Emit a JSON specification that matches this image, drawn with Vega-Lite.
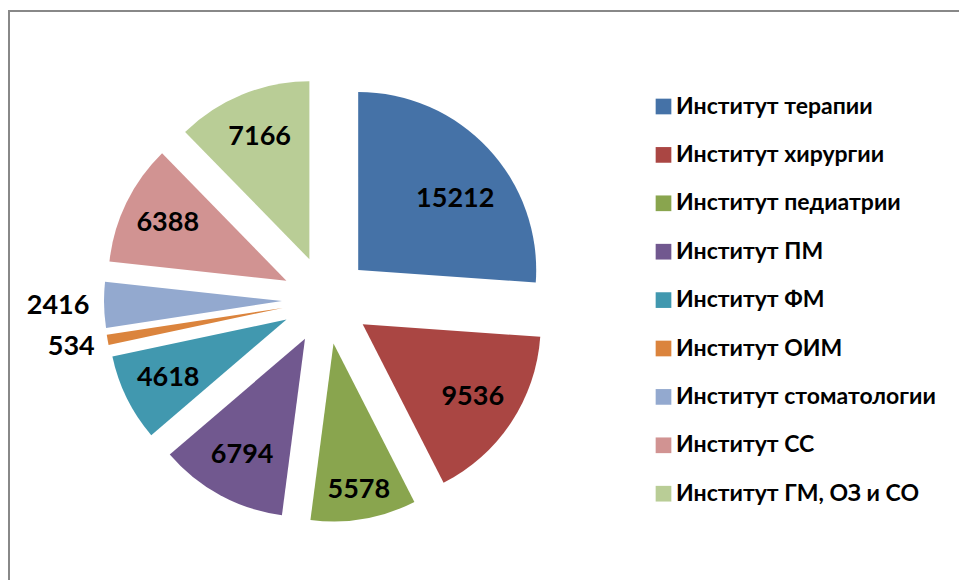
{
  "$schema": "https://vega.github.io/schema/vega-lite/v6.json",
  "width": 970,
  "height": 589,
  "padding": {"left": 9, "top": 11, "right": -20, "bottom": -20},
  "autosize": {"type": "none"},
  "background": "white",
  "view": {"stroke": "#888888", "strokeWidth": 2, "fill": "white"},
  "config": {"view": {"stroke": "#888888", "strokeWidth": 2}, "style": {"view": {"stroke": "#888888", "strokeWidth": 2}}, "font": "Lato"},
  "data": {"values": [
    {"name": "Институт терапии", "value": 15212, "idx": 1},
    {"name": "Институт хирургии", "value": 9536, "idx": 2},
    {"name": "Институт педиатрии", "value": 5578, "idx": 3},
    {"name": "Институт ПМ", "value": 6794, "idx": 4},
    {"name": "Институт ФМ", "value": 4618, "idx": 5},
    {"name": "Институт ОИМ", "value": 534, "idx": 6},
    {"name": "Институт стоматологии", "value": 2416, "idx": 7},
    {"name": "Институт СС", "value": 6388, "idx": 8},
    {"name": "Институт ГМ, ОЗ и СО", "value": 7166, "idx": 9}
  ]},
  "transform": [
    {"stack": "value", "groupby": [], "sort": [{"field": "idx", "order": "ascending"}], "as": ["v0", "v1"]}
  ],
  "encoding": {
    "color": {
      "field": "name", "type": "nominal",
      "scale": {
        "domain": ["Институт терапии", "Институт хирургии", "Институт педиатрии", "Институт ПМ", "Институт ФМ", "Институт ОИМ", "Институт стоматологии", "Институт СС", "Институт ГМ, ОЗ и СО"],
        "range": ["#4572A7", "#AA4643", "#89A54E", "#71588F", "#4198AF", "#DB843D", "#93A9CF", "#D19392", "#B9CD96"]
      },
      "legend": {
        "orient": "none", "legendX": 643, "legendY": 84, "title": null,
        "symbolType": "square", "symbolSize": 246, "symbolStrokeWidth": 0, "symbolOpacity": 1,
        "labelFont": "Lato", "labelFontSize": 23, "labelFontWeight": "bold", "labelColor": "black",
        "rowPadding": 24.4, "labelOffset": 1, "labelLimit": 400
      }
    }
  },
  "layer": [
    {"transform": [{"filter": "datum.idx == 1"}], "mark": {"type": "arc", "radius": 178, "xOffset": -135.8, "yOffset": -35.5},
     "encoding": {"theta": {"field": "v0", "type": "quantitative"}, "theta2": {"field": "v1"}}},
    {"transform": [{"filter": "datum.idx == 2"}], "mark": {"type": "arc", "radius": 178, "xOffset": -131.3, "yOffset": 18.8},
     "encoding": {"theta": {"field": "v0", "type": "quantitative"}, "theta2": {"field": "v1"}}},
    {"transform": [{"filter": "datum.idx == 3"}], "mark": {"type": "arc", "radius": 178, "xOffset": -160.5, "yOffset": 37.9},
     "encoding": {"theta": {"field": "v0", "type": "quantitative"}, "theta2": {"field": "v1"}}},
    {"transform": [{"filter": "datum.idx == 4"}], "mark": {"type": "arc", "radius": 178, "xOffset": -189.0, "yOffset": 33.2},
     "encoding": {"theta": {"field": "v0", "type": "quantitative"}, "theta2": {"field": "v1"}}},
    {"transform": [{"filter": "datum.idx == 5"}], "mark": {"type": "arc", "radius": 178, "xOffset": -207.5, "yOffset": 14.0},
     "encoding": {"theta": {"field": "v0", "type": "quantitative"}, "theta2": {"field": "v1"}}},
    {"transform": [{"filter": "datum.idx == 6"}], "mark": {"type": "arc", "radius": 178, "xOffset": -211.3, "yOffset": 2.4},
     "encoding": {"theta": {"field": "v0", "type": "quantitative"}, "theta2": {"field": "v1"}}},
    {"transform": [{"filter": "datum.idx == 7"}], "mark": {"type": "arc", "radius": 178, "xOffset": -212.0, "yOffset": -4.5},
     "encoding": {"theta": {"field": "v0", "type": "quantitative"}, "theta2": {"field": "v1"}}},
    {"transform": [{"filter": "datum.idx == 8"}], "mark": {"type": "arc", "radius": 178, "xOffset": -207.6, "yOffset": -24.8},
     "encoding": {"theta": {"field": "v0", "type": "quantitative"}, "theta2": {"field": "v1"}}},
    {"transform": [{"filter": "datum.idx == 9"}], "mark": {"type": "arc", "radius": 178, "xOffset": -184.6, "yOffset": -46.2},
     "encoding": {"theta": {"field": "v0", "type": "quantitative"}, "theta2": {"field": "v1"}}},
    {"mark": {"type": "text", "radius": 164, "thetaOffset": 0.087, "xOffset": -168, "yOffset": -5.5, "fontSize": 27, "fontWeight": "bold", "font": "Lato", "align": "center", "baseline": "middle"},
     "encoding": {"theta": {"field": "value", "type": "quantitative", "stack": true}, "order": {"field": "idx"}, "detail": {"field": "name"}, "color": {"value": "black"}, "text": {"field": "value", "type": "nominal"},
       "opacity": {"condition": {"test": "datum.idx == 1", "value": 1}, "value": 0}}},
    {"mark": {"type": "text", "radius": 176, "xOffset": -168, "yOffset": -5.5, "fontSize": 27, "fontWeight": "bold", "font": "Lato", "align": "center", "baseline": "middle"},
     "encoding": {"theta": {"field": "value", "type": "quantitative", "stack": true}, "order": {"field": "idx"}, "detail": {"field": "name"}, "color": {"value": "black"}, "text": {"field": "value", "type": "nominal"},
       "opacity": {"condition": {"test": "datum.idx == 2 || datum.idx == 4 || datum.idx == 5 || datum.idx == 8 || datum.idx == 9", "value": 1}, "value": 0}}},
    {"mark": {"type": "text", "radius": 193, "xOffset": -168, "yOffset": -5.5, "fontSize": 27, "fontWeight": "bold", "font": "Lato", "align": "center", "baseline": "middle"},
     "encoding": {"theta": {"field": "value", "type": "quantitative", "stack": true}, "order": {"field": "idx"}, "detail": {"field": "name"}, "color": {"value": "black"}, "text": {"field": "value", "type": "nominal"},
       "opacity": {"condition": {"test": "datum.idx == 3", "value": 1}, "value": 0}}},
    {"mark": {"type": "text", "radius": 259, "xOffset": -168, "yOffset": -5.5, "fontSize": 27, "fontWeight": "bold", "font": "Lato", "align": "center", "baseline": "middle"},
     "encoding": {"theta": {"field": "value", "type": "quantitative", "stack": true}, "order": {"field": "idx"}, "detail": {"field": "name"}, "color": {"value": "black"}, "text": {"field": "value", "type": "nominal"},
       "opacity": {"condition": {"test": "datum.idx == 6", "value": 1}, "value": 0}}},
    {"mark": {"type": "text", "radius": 268, "xOffset": -168, "yOffset": -5.5, "fontSize": 27, "fontWeight": "bold", "font": "Lato", "align": "center", "baseline": "middle"},
     "encoding": {"theta": {"field": "value", "type": "quantitative", "stack": true}, "order": {"field": "idx"}, "detail": {"field": "name"}, "color": {"value": "black"}, "text": {"field": "value", "type": "nominal"},
       "opacity": {"condition": {"test": "datum.idx == 7", "value": 1}, "value": 0}}}
  ]
}
